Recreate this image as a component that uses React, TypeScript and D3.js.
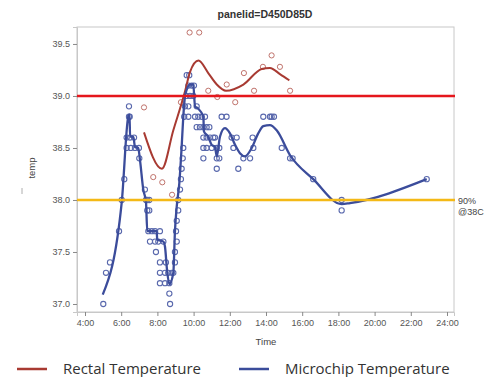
import { useEffect, useRef } from 'react';
import * as d3 from 'd3';

// time in hours, temp in °C
const rectalPoints: [number, number][] = [
  [7.26, 38.89], [7.77, 38.22], [8.27, 38.17], [8.81, 38.05], [9.3, 38.94],
  [9.78, 39.61], [10.31, 39.61], [10.81, 39.05], [11.31, 38.99], [11.83, 39.11],
  [12.3, 38.94], [12.78, 39.22], [13.34, 39.05], [13.83, 39.28], [14.31, 39.39],
  [14.77, 39.28], [15.33, 39.05],
];

const rectalFit: [number, number][] = [
  [7.26, 38.65], [8.25, 38.3], [8.88, 38.67], [9.52, 39.04], [9.8, 39.23],
  [10.27, 39.34], [10.81, 39.22], [11.28, 39.11], [11.79, 39.05], [12.75, 39.11],
  [13.76, 39.26], [14.22, 39.27], [14.77, 39.21], [15.29, 39.15],
];

const microchipPoints: [number, number][] = [
  [5.01, 37.0], [5.16, 37.3], [5.38, 37.4], [5.88, 37.7], [6.03, 38.0], [6.17, 38.2],
  [6.3, 38.5], [6.43, 38.9], [6.43, 38.8], [6.47, 38.8], [6.3, 38.6], [6.49, 38.6],
  [6.71, 38.6], [6.53, 38.5], [6.76, 38.5], [6.98, 38.5], [7.0, 38.4], [7.31, 38.1],
  [7.37, 38.0], [7.44, 38.0], [7.55, 38.0], [7.44, 37.9], [7.55, 37.9],
  [7.5, 37.7], [7.69, 37.7], [7.87, 37.7], [8.14, 37.7],
  [7.59, 37.6], [7.87, 37.6], [8.05, 37.6], [8.33, 37.6], [7.92, 37.5],
  [8.14, 37.4], [8.47, 37.4], [8.14, 37.3], [8.42, 37.3], [8.6, 37.3], [8.79, 37.3],
  [8.14, 37.2], [8.42, 37.2], [8.66, 37.2], [8.66, 37.1], [8.7, 37.0],
  [8.88, 37.3], [8.97, 37.4], [8.97, 37.5], [9.07, 37.6], [9.03, 37.7], [9.07, 37.8],
  [9.15, 37.9], [9.15, 38.0], [9.25, 38.1], [9.3, 38.2], [9.34, 38.3], [9.4, 38.4],
  [9.43, 38.5], [9.52, 38.9], [9.48, 38.8], [9.71, 38.8], [9.62, 39.0], [9.8, 39.0],
  [9.98, 39.0], [9.71, 39.1], [9.89, 39.1], [10.02, 39.1], [9.62, 39.2], [9.76, 39.2],
  [9.71, 38.9], [10.17, 38.9], [10.08, 38.8], [10.26, 38.8], [10.45, 38.8], [10.63, 38.8],
  [10.17, 38.7], [10.35, 38.7], [10.54, 38.7], [10.72, 38.7], [10.87, 38.7],
  [10.54, 38.6], [10.72, 38.6], [10.91, 38.6], [11.09, 38.6], [11.18, 38.6],
  [10.54, 38.5], [10.72, 38.5], [11.0, 38.5], [11.28, 38.5], [11.42, 38.5],
  [10.54, 38.4], [11.28, 38.4], [11.42, 38.4], [11.28, 38.3],
  [11.55, 38.8], [11.82, 38.8], [12.1, 38.6], [12.38, 38.6], [12.2, 38.5],
  [12.47, 38.3], [12.75, 38.4], [13.12, 38.4], [13.26, 38.6], [13.3, 38.5],
  [13.85, 38.8], [14.22, 38.8], [14.31, 38.8], [14.44, 38.8], [14.87, 38.5],
  [15.33, 38.4], [15.47, 38.4], [16.61, 38.2], [18.18, 38.0], [18.18, 37.9], [22.88, 38.2],
];

const microchipFit: [number, number][] = [
  [4.98, 37.09], [6.03, 37.98], [6.39, 38.8], [6.46, 38.82], [6.49, 38.61], [6.67, 38.61],
  [6.76, 38.51], [6.94, 38.5], [7.04, 38.38], [7.22, 38.1], [7.37, 37.98], [7.44, 37.7],
  [7.96, 37.7], [7.99, 37.62], [8.33, 37.6], [8.42, 37.55], [8.53, 37.33], [8.66, 37.19],
  [8.88, 37.3], [8.97, 37.7], [9.07, 37.94], [9.21, 38.16], [9.34, 38.51], [9.43, 38.8],
  [9.52, 38.99], [9.62, 39.06], [9.8, 39.11], [9.98, 39.11], [10.08, 38.9], [10.24, 38.88],
  [10.54, 38.8], [10.57, 38.66], [10.8, 38.61], [11.0, 38.53], [11.18, 38.51], [11.28, 38.42],
  [11.46, 38.61], [11.73, 38.69], [12.01, 38.64], [12.29, 38.53], [12.56, 38.45],
  [12.84, 38.42], [13.21, 38.5], [13.57, 38.64], [13.85, 38.71], [14.22, 38.72],
  [14.59, 38.67], [15.33, 38.43], [16.61, 38.2], [18.18, 37.96], [18.64, 37.97], [22.88, 38.2],
];

const xTicks = [4, 6, 8, 10, 12, 14, 16, 18, 20, 22, 24];
const yTicks = [37.0, 37.5, 38.0, 38.5, 39.0, 39.5];
const refLines = [
  { value: 39.0, color: '#e5171c' },
  { value: 38.0, color: '#f4b916' },
];

const WIDTH = 503;
const HEIGHT = 377;
const PLOT = { left: 77, right: 454, top: 27, bottom: 312 };

const RED = '#a83a32';
const BLUE = '#3b4c9b';

export default function App() {
  const ref = useRef<SVGSVGElement>(null);

  useEffect(() => {
    const svg = d3.select(ref.current);
    svg.selectAll('*').remove();

    const x = d3.scaleLinear().domain([3.558, 24.387]).range([PLOT.left, PLOT.right]);
    const y = d3.scaleLinear().domain([36.923, 39.663]).range([PLOT.bottom, PLOT.top]);

    // title
    svg.append('text')
      .attr('x', 265).attr('y', 18)
      .attr('text-anchor', 'middle')
      .style('font-family', 'Liberation Sans, Arial, sans-serif')
      .style('font-size', '10.5px').style('font-weight', 'bold').style('fill', '#333')
      .text('panelid=D450D85D');

    // frame
    svg.append('rect')
      .attr('x', PLOT.left).attr('y', PLOT.top)
      .attr('width', PLOT.right - PLOT.left).attr('height', PLOT.bottom - PLOT.top)
      .attr('fill', 'white').attr('stroke', '#c8c8c8').attr('stroke-width', 1);

    // axes
    const xAxis = svg.append('g')
      .attr('transform', `translate(0,${PLOT.bottom})`)
      .call(d3.axisBottom(x).tickValues(xTicks).tickSize(4).tickPadding(4)
        .tickFormat((d) => `${d}:00`));
    const yAxis = svg.append('g')
      .attr('transform', `translate(${PLOT.left},0)`)
      .call(d3.axisLeft(y).tickValues(yTicks).tickSize(4).tickPadding(3)
        .tickFormat(d3.format('.1f')));
    [xAxis, yAxis].forEach((g) => {
      g.select('.domain').attr('stroke', '#c8c8c8');
      g.selectAll('.tick line').attr('stroke', '#888');
      g.selectAll('.tick text')
        .style('font-family', 'Liberation Sans, Arial, sans-serif')
        .style('font-size', '9px').style('fill', '#555');
    });

    // axis labels
    svg.append('text')
      .attr('x', 266).attr('y', 345)
      .attr('text-anchor', 'middle')
      .style('font-family', 'Liberation Sans, Arial, sans-serif')
      .style('font-size', '9.5px').style('fill', '#444')
      .text('Time');
    svg.append('text')
      .attr('transform', 'translate(35,168) rotate(-90)')
      .attr('text-anchor', 'middle')
      .style('font-family', 'Liberation Sans, Arial, sans-serif')
      .style('font-size', '9.5px').style('fill', '#444')
      .text('temp');
    svg.append('line')
      .attr('x1', 22).attr('x2', 22).attr('y1', 188).attr('y2', 194)
      .attr('stroke', '#999').attr('stroke-width', 0.8);

    // scatter
    svg.append('g').selectAll('circle')
      .data(rectalPoints).join('circle')
      .attr('cx', (d) => x(d[0])).attr('cy', (d) => y(d[1])).attr('r', 2.6)
      .attr('fill', 'none').attr('stroke', '#c0736c').attr('stroke-width', 1);
    svg.append('g').selectAll('circle')
      .data(microchipPoints).join('circle')
      .attr('cx', (d) => x(d[0])).attr('cy', (d) => y(d[1])).attr('r', 2.6)
      .attr('fill', 'none').attr('stroke', '#5a69ad').attr('stroke-width', 1.1);

    // fitted lines
    const line = d3.line<[number, number]>()
      .x((d) => x(d[0])).y((d) => y(d[1]))
      .curve(d3.curveMonotoneX);
    svg.append('path').attr('d', line(rectalFit))
      .attr('fill', 'none').attr('stroke', RED).attr('stroke-width', 2);
    svg.append('path').attr('d', line(microchipFit))
      .attr('fill', 'none').attr('stroke', BLUE).attr('stroke-width', 2.3);

    // reference lines
    refLines.forEach((r) => {
      svg.append('line')
        .attr('x1', PLOT.left).attr('x2', PLOT.right + 1)
        .attr('y1', y(r.value)).attr('y2', y(r.value))
        .attr('stroke', r.color).attr('stroke-width', 2.6);
    });
    svg.append('text')
      .attr('x', 458).attr('y', y(38.0) + 4)
      .style('font-family', 'Liberation Sans, Arial, sans-serif')
      .style('font-size', '9px').style('fill', '#444')
      .text('90%');
    svg.append('text')
      .attr('x', 458).attr('y', y(38.0) + 15)
      .style('font-family', 'Liberation Sans, Arial, sans-serif')
      .style('font-size', '9px').style('fill', '#444')
      .text('@38C');

    // legend
    const legend = [
      { label: 'Rectal Temperature', color: RED, x: 17 },
      { label: 'Microchip Temperature', color: BLUE, x: 239 },
    ];
    legend.forEach((l) => {
      svg.append('line')
        .attr('x1', l.x).attr('x2', l.x + 30).attr('y1', 369).attr('y2', 369)
        .attr('stroke', l.color).attr('stroke-width', 2.5);
      svg.append('text')
        .attr('x', l.x + 46).attr('y', 374)
        .style('font-family', 'Open Sans, Liberation Sans, sans-serif')
        .style('font-size', '15px').style('fill', '#333')
        .text(l.label);
    });
  }, []);

  return (
    <svg
      ref={ref}
      width={WIDTH}
      height={HEIGHT}
      style={{ position: 'absolute', left: 0, top: 0, background: 'white' }}
    />
  );
}
